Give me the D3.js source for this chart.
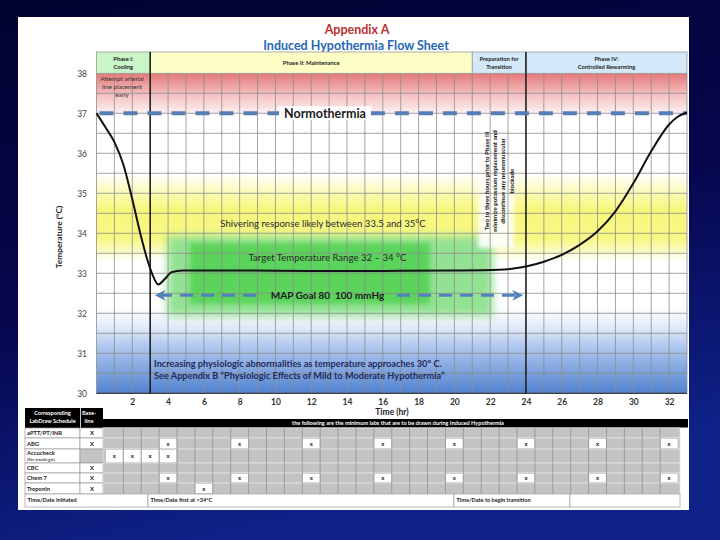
<!DOCTYPE html>
<html>
<head>
<meta charset="utf-8">
<title>Induced Hypothermia Flow Sheet</title>
<script src="https://cdn.jsdelivr.net/npm/d3@7"></script>
<style>
  body { margin: 0; background: #03033a; }
  svg { display: block; }
  text { font-family: Lato, "Open Sans", "DejaVu Sans", sans-serif; }
</style>
</head>
<body>
<div id="chart"></div>
<script>
// temperature course (hours, deg C)
var curveHours = [0, 0.5, 1, 1.5, 2, 2.5, 2.8, 3.1, 3.45, 3.8, 4.2, 4.8, 8, 12, 16, 20, 22.5, 24, 25, 26, 27, 28, 29, 30, 31, 32, 32.5, 33];
var curveTemps = [37, 36.65, 36.28, 35.72, 34.85, 33.9, 33.4, 33.0, 32.72, 32.85, 33.03, 33.07, 33.07, 33.06, 33.06, 33.07, 33.09, 33.17, 33.29, 33.46, 33.71, 34.05, 34.55, 35.25, 36.05, 36.72, 36.92, 37.02];

var hourTicks = [2, 4, 6, 8, 10, 12, 14, 16, 18, 20, 22, 24, 26, 28, 30, 32];
var tempTicks = [30, 31, 32, 33, 34, 35, 36, 37, 38];

// phases of the protocol
var phaseLabels = [["Phase I:", "Cooling"], ["Phase II: Maintenance"], ["Preparation for", "Transition"], ["Phase IV:", "Controlled Rewarming"]];
var phaseStart = [0, 3, 21, 24];
var phaseEnd = [3, 21, 24, 33];
var phaseColors = ["#c9f5c9", "#fdfdc6", "#d3e9f9", "#d3e9f9"];

// lab draw schedule
var labNames = ["aPTT/PT/INR", "ABG", "Accucheck", "CBC", "Chem 7", "Troponin"];
var labNotes = ["", "", "(For insulin gtt)", "", "", ""];
var labBaseline = [true, true, false, true, true, true];
var labHours = [[], [4, 8, 12, 16, 20, 24, 28, 32], [1, 2, 3, 4], [], [4, 8, 12, 16, 20, 24, 28, 32], [6]];
var timeStamps = ["Time/Date Initiated", "Time/Date first at <34°C", "Time/Date to begin transition", ""];

var noteLines = ["Two to three hours prior to Phase III", "minimize potassium replacement and", "discontinue any neuromuscular", "blockade"];

var width = 720,
  height = 540;

var svg = d3.select("#chart").append("svg")
  .attr("width", width)
  .attr("height", height);
var defs = svg.append("defs");

var x = d3.scaleLinear().domain([0, 33]).range([96.5, 687]);
var y = d3.scaleLinear().domain([30, 38]).range([393.3, 73.3]);

//vertical gradient in user space
function vGrad(id, y1, y2, stops) {
  var g = defs.append("linearGradient").attr("id", id)
    .attr("gradientUnits", "userSpaceOnUse")
    .attr("x1", 0).attr("x2", 0).attr("y1", y1).attr("y2", y2);
  stops.forEach(function(s) {
    g.append("stop").attr("offset", s[0]).attr("stop-color", s[1])
      .attr("stop-opacity", s[2] == null ? 1 : s[2]);
  });
}

function blurFilter(id, dev) {
  defs.append("filter").attr("id", id)
    .attr("x", "-40%").attr("y", "-40%").attr("width", "180%").attr("height", "180%")
    .append("feGaussianBlur").attr("stdDeviation", dev);
}
blurFilter("glow", 4);
blurFilter("glow2", 2.5);
blurFilter("soft", 2);

// navy frame + white sheet
var frame = defs.append("linearGradient").attr("id", "frame")
  .attr("x1", 0).attr("y1", 0).attr("x2", 0.3).attr("y2", 1);
frame.append("stop").attr("offset", 0).attr("stop-color", "#020230");
frame.append("stop").attr("offset", 0.55).attr("stop-color", "#06074e");
frame.append("stop").attr("offset", 1).attr("stop-color", "#0e2288");
svg.append("rect").attr("width", width).attr("height", height).attr("fill", "url(#frame)");
svg.append("rect").attr("x", 18).attr("y", 17).attr("width", 671).attr("height", 493).attr("fill", "#fff");

// titles
svg.append("text").attr("x", 357).attr("y", 33.5).attr("text-anchor", "middle")
  .attr("font-size", 12.5).attr("font-weight", "bold").attr("fill", "#b83030")
  .text("Appendix A");
svg.append("text").attr("x", 356).attr("y", 49.5).attr("text-anchor", "middle")
  .attr("font-size", 12.5).attr("font-weight", "bold").attr("fill", "#2767b3")
  .text("Induced Hypothermia Flow Sheet");

var plotW = x(33) - x(0);

// temperature zones
vGrad("redBand", y(38), y(37), [[0, "#e57878"], [0.5, "#f3bcbc"], [1, "#fdf1f1"]]);
svg.append("rect").attr("x", x(0)).attr("y", y(38)).attr("width", plotW)
  .attr("height", y(37) - y(38)).attr("fill", "url(#redBand)");

vGrad("yellowBand", y(35.5), y(33.3), [[0, "#f7f77e", 0], [0.4, "#f7f77e", 1], [0.75, "#f7f784", 1], [1, "#f7f784", 0]]);
svg.append("rect").attr("x", x(0)).attr("y", y(35.5)).attr("width", plotW)
  .attr("height", y(33.3) - y(35.5)).attr("fill", "url(#yellowBand)");

vGrad("blueBand", y(32.2), y(30), [[0, "#dfe8f8", 0], [0.45, "#b3caef"], [1, "#5182cf"]]);
svg.append("rect").attr("x", x(0)).attr("y", y(32.2)).attr("width", plotW)
  .attr("height", y(30) - y(32.2)).attr("fill", "url(#blueBand)");

// target range glow
svg.append("rect").attr("x", x(3.95)).attr("y", y(33.93)).attr("width", x(22.15) - x(3.95))
  .attr("height", y(31.93) - y(33.93)).attr("fill", "#93e293").attr("filter", "url(#glow)");
svg.append("rect").attr("x", x(5.22)).attr("y", y(33.76)).attr("width", x(18.63) - x(5.22))
  .attr("height", y(32.23) - y(33.76)).attr("fill", "#5ad45a").attr("filter", "url(#glow2)");

// box behind the rotated note
svg.append("rect").attr("x", 478).attr("y", 116).attr("width", 36).attr("height", 132)
  .attr("fill", "#fff").attr("opacity", 0.9).attr("filter", "url(#soft)");

// grid
var grid = svg.append("g").attr("stroke", "#8d8d8d").attr("stroke-width", 0.8);
grid.selectAll(".vg").data(d3.range(0, 34)).enter().append("line")
  .attr("x1", function(d) { return x(d); }).attr("x2", function(d) { return x(d); })
  .attr("y1", y(38)).attr("y2", y(30));
grid.selectAll(".hg").data(d3.range(30, 38.01, 0.5)).enter().append("line")
  .attr("x1", x(0)).attr("x2", x(33))
  .attr("y1", function(d) { return y(d); }).attr("y2", function(d) { return y(d); });

// phase header
var headTop = 52;
var head = svg.append("g");
head.selectAll("rect").data(phaseStart).enter().append("rect")
  .attr("x", function(d) { return x(d); })
  .attr("y", headTop)
  .attr("width", function(d, i) { return x(phaseEnd[i]) - x(d); })
  .attr("height", y(38) - headTop)
  .attr("fill", function(d, i) { return phaseColors[i]; })
  .attr("stroke", "#9a9a9a").attr("stroke-width", 0.8);
phaseLabels.forEach(function(lines, i) {
  var cx = (x(phaseStart[i]) + x(phaseEnd[i])) / 2;
  var y0 = lines.length == 1 ? 64.5 : 61;
  lines.forEach(function(t, j) {
    head.append("text").attr("x", cx).attr("y", y0 + j * 7.5)
      .attr("text-anchor", "middle").attr("font-size", 5.8).attr("font-weight", "bold")
      .attr("fill", "#222").text(t);
  });
});

// phase separators
svg.selectAll(".sep").data([3, 24]).enter().append("line")
  .attr("x1", function(d) { return x(d); }).attr("x2", function(d) { return x(d); })
  .attr("y1", headTop).attr("y2", y(30))
  .attr("stroke", "#111").attr("stroke-width", 1.4);
svg.append("line").attr("x1", x(0)).attr("x2", x(33)).attr("y1", y(30)).attr("y2", y(30))
  .attr("stroke", "#222").attr("stroke-width", 1);

// note in phase I column
["Attempt arterial", "line placement", "early"].forEach(function(t, j) {
  svg.append("text").attr("x", 122).attr("y", 80.5 + j * 8.3)
    .attr("text-anchor", "middle").attr("font-size", 6.3).attr("fill", "#333").text(t);
});

// Normothermia line
var normo = svg.append("text").attr("x", 325).attr("y", y(37)).attr("dy", "0.36em")
  .attr("text-anchor", "middle").attr("font-size", 12.5).attr("font-weight", "bold")
  .attr("fill", "#1a1a1a").text("Normothermia");
var nb = normo.node().getBBox();
svg.insert("rect", function() { return normo.node(); })
  .attr("x", nb.x - 6).attr("y", y(37) - 7).attr("width", nb.width + 12).attr("height", 14)
  .attr("fill", "#fff");
[[x(0) + 3, nb.x - 5], [nb.x + nb.width + 5, x(33)]].forEach(function(seg) {
  svg.append("line").attr("x1", seg[0]).attr("x2", seg[1]).attr("y1", y(37)).attr("y2", y(37))
    .attr("stroke", "#5a7cb4").attr("stroke-width", 4).attr("stroke-dasharray", "14,10");
});

// MAP goal arrow
defs.append("marker").attr("id", "arrow").attr("viewBox", "0 0 10 10")
  .attr("refX", 6).attr("refY", 5).attr("markerWidth", 4).attr("markerHeight", 3.6)
  .attr("orient", "auto-start-reverse")
  .append("path").attr("d", "M0,0 L10,5 L0,10 L3,5 Z").attr("fill", "#4f81bd");
var mapY = y(32.45);
var mapText = svg.append("text").attr("x", 327.5).attr("y", mapY).attr("dy", "0.36em")
  .attr("text-anchor", "middle").attr("font-size", 10).attr("font-weight", "bold")
  .attr("fill", "#1a1a1a").style("white-space", "pre").text("MAP Goal 80  100 mmHg");
var mb = mapText.node().getBBox();
svg.append("line").attr("x1", x(3.5)).attr("x2", mb.x - 10).attr("y1", mapY).attr("y2", mapY)
  .attr("stroke", "#4f81bd").attr("stroke-width", 3).attr("stroke-dasharray", "13,8")
  .attr("marker-start", "url(#arrow)");
svg.append("line").attr("x1", mb.x + mb.width + 12).attr("x2", x(23.6)).attr("y1", mapY).attr("y2", mapY)
  .attr("stroke", "#4f81bd").attr("stroke-width", 3).attr("stroke-dasharray", "13,8")
  .attr("marker-end", "url(#arrow)");

// temperature curve
var line = d3.line()
  .x(function(d) { return x(d); })
  .y(function(d, i) { return y(curveTemps[i]); })
  .curve(d3.curveMonotoneX);
svg.append("path").attr("d", line(curveHours))
  .attr("fill", "none").attr("stroke", "#111").attr("stroke-width", 2);

// zone texts
svg.append("text").attr("x", 323).attr("y", 223.5).attr("dy", "0.35em").attr("text-anchor", "middle")
  .attr("font-size", 9.6).attr("fill", "#2a2a2a")
  .text("Shivering response likely between 33.5 and 35°C");
svg.append("text").attr("x", 327.5).attr("y", 257.5).attr("dy", "0.35em").attr("text-anchor", "middle")
  .attr("font-size", 9.6).attr("fill", "#2a2a2a")
  .text("Target Temperature Range 32 – 34 °C");
svg.append("text").attr("x", 154).attr("y", 367)
  .attr("font-size", 9.2).attr("font-weight", "bold").attr("fill", "#1f2a5a")
  .text("Increasing physiologic abnormalities as temperature approaches 30° C.");
svg.append("text").attr("x", 154).attr("y", 378.5)
  .attr("font-size", 9.2).attr("font-weight", "bold").attr("fill", "#1f2a5a")
  .text("See Appendix B “Physiologic Effects of Mild to Moderate Hypothermia”");

// rotated note before phase III
noteLines.forEach(function(t, j) {
  var cx = 486.5 + j * 8.4;
  svg.append("text").attr("x", cx).attr("y", 181).attr("dy", "0.35em")
    .attr("transform", "rotate(-90," + cx + ",181)")
    .attr("text-anchor", "middle").attr("font-size", 6.2).attr("font-weight", "bold")
    .attr("fill", "#1a1a1a").text(t);
});

// axes
var xAxis = svg.append("g").attr("transform", "translate(0," + y(30) + ")")
  .call(d3.axisBottom(x).tickValues(hourTicks).tickSize(0).tickPadding(5.5));
xAxis.select(".domain").remove();
xAxis.selectAll("text").attr("font-size", 8.5).attr("font-weight", "bold").attr("fill", "#333")
  .attr("font-family", null);

var yAxis = svg.append("g").attr("transform", "translate(" + x(0) + ",0)")
  .call(d3.axisLeft(y).tickValues(tempTicks).tickSize(0).tickPadding(9.5));
yAxis.select(".domain").remove();
yAxis.selectAll("text").attr("font-size", 8.5).attr("fill", "#444").attr("font-family", null);

svg.append("text").attr("x", 392).attr("y", 415).attr("text-anchor", "middle")
  .attr("font-size", 8.5).attr("font-weight", "bold").attr("fill", "#222").text("Time (hr)");
svg.append("text").attr("transform", "translate(62,237) rotate(-90)").attr("text-anchor", "middle")
  .attr("font-size", 8.3).attr("font-weight", "bold").attr("fill", "#222").text("Temperature (°C)");

// lab draw table
var rowTop = [428, 438, 449, 463, 473, 483, 494, 507];
var labelX0 = 25, labelX1 = 80, baseX1 = 103, tableRight = 680;
var table = svg.append("g");

table.append("rect").attr("x", labelX0).attr("y", 408).attr("width", labelX1 - labelX0).attr("height", 20).attr("fill", "#000");
table.append("rect").attr("x", labelX1 + 0.8).attr("y", 408).attr("width", baseX1 - labelX1 - 0.8).attr("height", 20).attr("fill", "#000");
table.append("rect").attr("x", baseX1).attr("y", 419).attr("width", 688 - baseX1).attr("height", 8.5).attr("fill", "#000");
[["Corresponding", 52.5], ["LabDraw Schedule", 52.5]].forEach(function(d, j) {
  table.append("text").attr("x", d[1]).attr("y", 414.5 + j * 8).attr("text-anchor", "middle")
    .attr("font-size", 5.6).attr("font-weight", "bold").attr("fill", "#fff").text(d[0]);
});
["Base-", "line"].forEach(function(t, j) {
  table.append("text").attr("x", 89).attr("y", 414.5 + j * 8).attr("text-anchor", "middle")
    .attr("font-size", 5.6).attr("font-weight", "bold").attr("fill", "#fff").text(t);
});
table.append("text").attr("x", 398).attr("y", 425.3).attr("text-anchor", "middle")
  .attr("font-size", 5.6).attr("font-weight", "bold").attr("fill", "#fff")
  .text("the following are the minimum labs that are to be drawn during Induced Hypothermia");

labNames.forEach(function(name, i) {
  var y0 = rowTop[i], y1 = rowTop[i + 1], mid = (y0 + y1) / 2;
  table.append("rect").attr("x", labelX0).attr("y", y0).attr("width", labelX1 - labelX0).attr("height", y1 - y0)
    .attr("fill", "#fff").attr("stroke", "#9a9a9a").attr("stroke-width", 0.7);
  table.append("rect").attr("x", labelX1).attr("y", y0).attr("width", baseX1 - labelX1).attr("height", y1 - y0)
    .attr("fill", labBaseline[i] ? "#fff" : "#c3c3c3").attr("stroke", "#9a9a9a").attr("stroke-width", 0.7);
  table.append("rect").attr("x", baseX1).attr("y", y0).attr("width", tableRight - baseX1).attr("height", y1 - y0)
    .attr("fill", "#c3c3c3").attr("stroke", "#e4e4e4").attr("stroke-width", 0.7);
  table.selectAll(".cell" + i).data(labHours[i]).enter().append("rect")
    .attr("x", function(h) { return x(h - 0.5) + 0.5; })
    .attr("y", y0 + 1)
    .attr("width", x(1) - x(0) - 1)
    .attr("height", y1 - y0 - 2)
    .attr("fill", "#fff");
  table.selectAll(".mark" + i).data(labHours[i]).enter().append("text")
    .attr("x", function(h) { return x(h); }).attr("y", mid).attr("dy", "0.35em")
    .attr("text-anchor", "middle").attr("font-size", 6).attr("font-weight", "bold")
    .attr("fill", "#222").text("x");
  if (labBaseline[i]) {
    table.append("text").attr("x", 92).attr("y", mid).attr("dy", "0.35em")
      .attr("text-anchor", "middle").attr("font-size", 6).attr("font-weight", "bold")
      .attr("fill", "#222").text("X");
  }
  if (labNotes[i]) {
    table.append("text").attr("x", 27).attr("y", y0 + 6).attr("font-size", 5.8)
      .attr("font-weight", "bold").attr("fill", "#222").text(name);
    table.append("text").attr("x", 27).attr("y", y0 + 12).attr("font-size", 4.2)
      .attr("font-weight", "bold").attr("fill", "#444").text(labNotes[i]);
  } else {
    table.append("text").attr("x", 27).attr("y", mid).attr("dy", "0.35em").attr("font-size", 5.8)
      .attr("font-weight", "bold").attr("fill", "#222").text(name);
  }
});

// column lines of the schedule
table.selectAll(".col").data(d3.range(1, 32)).enter().append("line")
  .attr("x1", function(h) { return x(h + 0.5); }).attr("x2", function(h) { return x(h + 0.5); })
  .attr("y1", rowTop[0]).attr("y2", rowTop[6])
  .attr("stroke", "#8a8a8a").attr("stroke-width", 0.7);

// time stamp row
var stampEdges = [labelX0, 148, 454, 570, tableRight];
timeStamps.forEach(function(t, i) {
  table.append("rect").attr("x", stampEdges[i]).attr("y", rowTop[6])
    .attr("width", stampEdges[i + 1] - stampEdges[i]).attr("height", rowTop[7] - rowTop[6])
    .attr("fill", "#fff").attr("stroke", "#9a9a9a").attr("stroke-width", 0.7);
  table.append("text").attr("x", stampEdges[i] + 2.5).attr("y", (rowTop[6] + rowTop[7]) / 2).attr("dy", "0.35em")
    .attr("font-size", 5.6).attr("font-weight", "bold").attr("fill", "#222").text(t);
});
</script>
</body>
</html>
